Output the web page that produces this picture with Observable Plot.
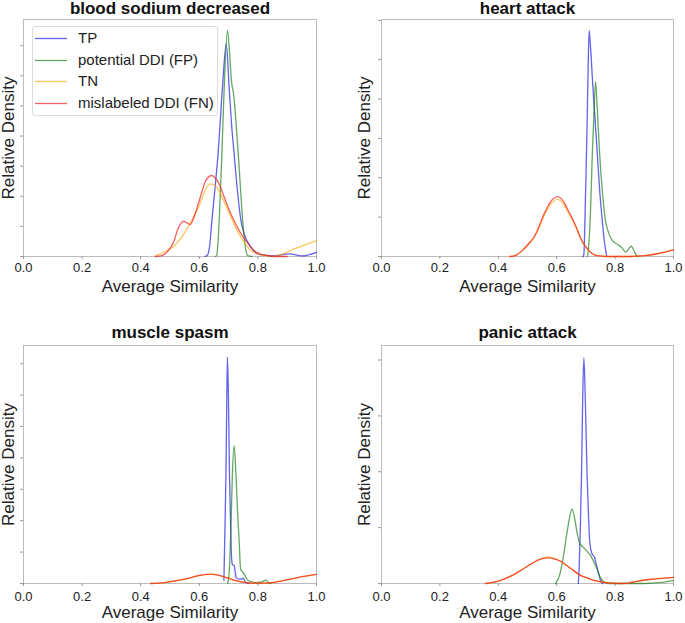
<!DOCTYPE html>
<html><head><meta charset="utf-8">
<script src="https://cdn.jsdelivr.net/npm/d3@7"></script>
<script src="https://cdn.jsdelivr.net/npm/@observablehq/plot@0.6"></script>
<style>
body{margin:0;background:#fff;}
#chart{position:relative;width:685px;height:623px;font-family:"Liberation Sans",Arial,sans-serif;overflow:hidden;}
#chart svg.panel{position:absolute;}
.legend{position:absolute;left:32px;top:26px;width:186px;height:90px;border:1px solid #dcdcdc;border-radius:3px;background:rgba(255,255,255,0.85);box-sizing:border-box;}
.legend .row{position:absolute;left:0;height:20px;width:184px;font-size:15px;color:#222;white-space:nowrap;}
.legend .row svg{position:absolute;left:2px;top:9px;}
.legend .row span{position:absolute;left:45px;top:1px;line-height:18px;}
</style></head><body><div id="chart"></div>
<script>
const seriesNames = ["TP", "potential DDI (FP)", "TN", "mislabeled DDI (FN)"];
const seriesColors = ["#1010e0", "#107a10", "#ffa500", "#ee1010"];
const panelTitles = ["blood sodium decreased", "heart attack", "muscle spasm", "panic attack"];
const xTicks = [0, 0.2, 0.4, 0.6, 0.8, 1.0];
const bloodYTicks = [0, 1, 2, 3, 4, 5, 6, 7];
const heartYTicks = [0, 1, 2, 3, 4, 5, 6];
const muscleYTicks = [0, 1, 2, 3, 4, 5, 6, 7];
const panicYTicks = [0, 1, 2, 3, 4];

// blood sodium decreased
const bloodTP = [[0.62,0],[0.628,0.05],[0.636,0.4],[0.643,1.2],[0.654,2.3],[0.664,3.4],[0.679,5.6],[0.692,7.07],[0.702,5.6],[0.71,4.4],[0.719,3.4],[0.73,2.2],[0.742,1.2],[0.755,0.7],[0.776,0.31],[0.80,0.08],[0.85,0.02],[0.908,0.09],[0.95,0.02],[1.0,0.14]];
const bloodFP = [[0.655,0],[0.66,0.05],[0.664,0.5],[0.668,1.2],[0.677,3.4],[0.685,5.6],[0.696,7.51],[0.703,6.8],[0.71,5.8],[0.717,5.4],[0.725,4.5],[0.733,3.4],[0.741,2.2],[0.748,1.2],[0.759,0.2],[0.765,0.03],[0.78,0]];
const bloodTN = [[0.45,0.02],[0.49,0.2],[0.514,0.35],[0.56,0.95],[0.6,1.7],[0.62,2.2],[0.639,2.41],[0.655,2.35],[0.673,2.08],[0.69,1.7],[0.708,1.31],[0.725,0.95],[0.742,0.64],[0.76,0.38],[0.776,0.2],[0.80,0.08],[0.822,0.03],[0.856,0.01],[0.88,0.06],[0.912,0.2],[0.94,0.31],[0.969,0.42],[1.0,0.53]];
const bloodFN = [[0.45,0],[0.469,0.02],[0.49,0.15],[0.503,0.31],[0.515,0.55],[0.525,0.86],[0.536,1.08],[0.546,1.17],[0.557,1.12],[0.569,1.06],[0.585,1.4],[0.6,1.86],[0.612,2.25],[0.622,2.52],[0.643,2.69],[0.655,2.6],[0.668,2.41],[0.682,2.05],[0.696,1.69],[0.713,1.3],[0.73,0.97],[0.745,0.72],[0.759,0.53],[0.773,0.35],[0.787,0.2],[0.805,0.1],[0.822,0.05],[0.856,0],[0.9,0]];

// heart attack
const heartTP = [[0.69,0],[0.693,0.05],[0.697,1.0],[0.702,2.61],[0.707,4.5],[0.711,5.74],[0.716,5.3],[0.724,4.3],[0.732,3.4],[0.739,2.61],[0.748,1.6],[0.756,0.91],[0.763,0.4],[0.771,0.02]];
const heartFP = [[0.705,0],[0.71,0.3],[0.716,1.2],[0.722,2.61],[0.728,3.7],[0.733,4.44],[0.74,3.6],[0.747,2.61],[0.757,1.6],[0.767,0.91],[0.778,0.6],[0.79,0.41],[0.81,0.3],[0.824,0.22],[0.836,0.11],[0.845,0.18],[0.856,0.26],[0.866,0.12],[0.876,0.01],[0.88,0]];
const heartTN = [[0.44,0],[0.46,0.03],[0.487,0.18],[0.51,0.36],[0.52,0.45],[0.533,0.62],[0.545,0.83],[0.556,1.02],[0.567,1.18],[0.578,1.32],[0.59,1.41],[0.602,1.45],[0.614,1.41],[0.625,1.31],[0.636,1.16],[0.648,1.0],[0.659,0.85],[0.67,0.67],[0.68,0.48],[0.692,0.32],[0.705,0.19],[0.72,0.08],[0.739,0.02],[0.77,0],[0.85,0],[0.9,0.02],[0.944,0.07],[1.0,0.17]];
const heartFN = [[0.44,0],[0.46,0.03],[0.487,0.19],[0.51,0.38],[0.52,0.47],[0.533,0.65],[0.545,0.87],[0.556,1.07],[0.567,1.24],[0.578,1.38],[0.59,1.48],[0.602,1.52],[0.614,1.48],[0.625,1.38],[0.636,1.22],[0.648,1.05],[0.659,0.88],[0.67,0.69],[0.68,0.5],[0.692,0.33],[0.705,0.2],[0.72,0.08],[0.739,0.02],[0.77,0],[0.85,0],[0.9,0.02],[0.944,0.07],[1.0,0.17]];

// muscle spasm
const muscleTP = [[0.684,0.1],[0.687,1.5],[0.691,3.5],[0.694,6.0],[0.696,7.21],[0.699,6.2],[0.703,3.5],[0.707,1.8],[0.71,0.85],[0.713,0.6],[0.719,0.57],[0.722,0.4],[0.726,0.18],[0.735,0.14],[0.743,0.14],[0.75,0.17],[0.756,0.06],[0.765,0.01],[0.77,0]];
const muscleFP = [[0.697,0],[0.703,0.5],[0.708,1.8],[0.713,3.5],[0.719,4.38],[0.725,3.5],[0.73,2.4],[0.736,1.36],[0.741,0.46],[0.747,0.38],[0.753,0.3],[0.762,0.15],[0.77,0.08],[0.79,0.03],[0.811,0.04],[0.827,0.11],[0.838,0.01],[0.845,0]];
const muscleTN = [[0.434,0],[0.48,0.03],[0.52,0.08],[0.548,0.13],[0.571,0.18],[0.6,0.25],[0.645,0.29],[0.68,0.22],[0.719,0.1],[0.76,0.03],[0.8,0.01],[0.84,0.02],[0.867,0.06],[0.9,0.12],[0.946,0.21],[1.0,0.29]];
const muscleFN = [[0.434,0],[0.48,0.03],[0.52,0.09],[0.548,0.14],[0.571,0.19],[0.6,0.26],[0.645,0.3],[0.68,0.23],[0.719,0.11],[0.76,0.03],[0.8,0.01],[0.84,0.02],[0.867,0.06],[0.9,0.12],[0.946,0.21],[1.0,0.29]];

// panic attack
const panicTP = [[0.674,0],[0.677,0.3],[0.681,1.0],[0.685,1.95],[0.689,3.3],[0.693,4.04],[0.698,3.3],[0.704,1.95],[0.709,1.2],[0.713,0.76],[0.719,0.56],[0.725,0.5],[0.729,0.48],[0.735,0.35],[0.744,0.17],[0.75,0.06],[0.757,0]];
const panicFP = [[0.596,0],[0.61,0.15],[0.622,0.46],[0.635,0.9],[0.645,1.2],[0.653,1.33],[0.662,1.15],[0.67,0.9],[0.676,0.76],[0.685,0.68],[0.693,0.64],[0.705,0.57],[0.716,0.5],[0.726,0.4],[0.736,0.29],[0.75,0.1],[0.762,0.03],[0.773,0],[0.9,0],[0.96,0.02],[1.0,0.05]];
const panicTN = [[0.356,0],[0.39,0.03],[0.419,0.08],[0.45,0.15],[0.476,0.23],[0.5,0.31],[0.522,0.38],[0.548,0.45],[0.573,0.47],[0.597,0.44],[0.619,0.38],[0.64,0.3],[0.658,0.23],[0.68,0.15],[0.704,0.1],[0.73,0.05],[0.761,0.02],[0.818,0],[0.85,0.01],[0.876,0.04],[0.933,0.08],[1.0,0.11]];
const panicFN = [[0.356,0],[0.39,0.03],[0.419,0.08],[0.45,0.15],[0.476,0.23],[0.5,0.31],[0.522,0.38],[0.548,0.44],[0.573,0.46],[0.597,0.43],[0.619,0.38],[0.64,0.3],[0.658,0.23],[0.68,0.15],[0.704,0.1],[0.73,0.05],[0.761,0.02],[0.818,0],[0.85,0.01],[0.876,0.04],[0.933,0.08],[1.0,0.11]];

const panelCurves = [
  [bloodTP, bloodFP, bloodTN, bloodFN],
  [heartTP, heartFP, heartTN, heartFN],
  [muscleTP, muscleFP, muscleTN, muscleFN],
  [panicTP, panicFP, panicTN, panicFN]
];
const panelYTicks = [bloodYTicks, heartYTicks, muscleYTicks, panicYTicks];

const layout = [
  {left:0,   top:0,   width:342, height:300, mL:23, mR:26, mT:19, mB:44, yMax:7.87, titleDy:-6,   labelDy:35.4, ylabDx:-14.5, tickPad:3},
  {left:342, top:0,   width:343, height:300, mL:39, mR:12, mT:19, mB:44, yMax:6.02, titleDy:-6,   labelDy:35.4, ylabDx:-17.2, tickPad:3},
  {left:0,   top:300, width:342, height:323, mL:23, mR:26, mT:45, mB:40, yMax:7.58, titleDy:-7.5, labelDy:34.7, ylabDx:-14.5, tickPad:5},
  {left:342, top:300, width:343, height:323, mL:39, mR:12, mT:45, mB:40, yMax:4.26, titleDy:-7.5, labelDy:34.7, ylabDx:-17.2, tickPad:5}
];

const chart = document.getElementById("chart");

panelTitles.forEach((title, p) => {
  const L = layout[p];
  const rows = seriesNames.flatMap((s, i) => panelCurves[p][i].map(([x, y]) => ({series: s, x, y})));
  const svg = Plot.plot({
    width: L.width, height: L.height,
    marginLeft: L.mL, marginRight: L.mR, marginTop: L.mT, marginBottom: L.mB,
    x: {domain: [0, 1]},
    y: {domain: [0, L.yMax]},
    color: {domain: seriesNames, range: seriesColors},
    style: {fontFamily: '"Liberation Sans", Arial, sans-serif', fontSize: "13px", color: "#222", background: "transparent", overflow: "visible"},
    marks: [
      Plot.frame({stroke: "#bcbcbc", strokeWidth: 1}),
      Plot.axisX({ticks: xTicks, tickFormat: d3.format(".1f"), tickSize: 3, tickPadding: L.tickPad, stroke: "#999", fill: "#222", fontSize: 13, label: null}),
      Plot.axisY({ticks: panelYTicks[p], tickFormat: () => "", tickSize: 3, stroke: "#999", label: null}),
      Plot.line(rows, {x: "x", y: "y", z: "series", stroke: "series", strokeWidth: 1.3, strokeOpacity: 0.65, curve: "monotone-x"}),
      Plot.text([title], {text: d => d, frameAnchor: "top", lineAnchor: "bottom", textAnchor: "middle", dy: L.titleDy, fontWeight: "bold", fontSize: 17, fill: "#111"}),
      Plot.text(["Average Similarity"], {text: d => d, frameAnchor: "bottom", lineAnchor: "bottom", textAnchor: "middle", dy: L.labelDy, fontSize: 17, fill: "#222"}),
      Plot.text(["Relative Density"], {text: d => d, frameAnchor: "left", lineAnchor: "middle", textAnchor: "middle", rotate: -90, dx: L.ylabDx, fontSize: 17, fill: "#222"})
    ]
  });
  svg.classList.add("panel");
  svg.style.left = L.left + "px";
  svg.style.top = L.top + "px";
  chart.appendChild(svg);
});

// legend inside first panel
const legend = document.createElement("div");
legend.className = "legend";
seriesNames.forEach((s, i) => {
  const row = document.createElement("div");
  row.className = "row";
  row.style.top = (1 + i * 21.7) + "px";
  const ns = "http://www.w3.org/2000/svg";
  const sw = document.createElementNS(ns, "svg");
  sw.setAttribute("width", "33"); sw.setAttribute("height", "3");
  const ln = document.createElementNS(ns, "line");
  ln.setAttribute("x1", "0"); ln.setAttribute("x2", "32"); ln.setAttribute("y1", "1.5"); ln.setAttribute("y2", "1.5");
  ln.setAttribute("stroke", seriesColors[i]); ln.setAttribute("stroke-opacity", "0.65"); ln.setAttribute("stroke-width", "1.3");
  sw.appendChild(ln);
  const tx = document.createElement("span");
  tx.textContent = s;
  row.appendChild(sw); row.appendChild(tx);
  legend.appendChild(row);
});
chart.appendChild(legend);
</script></body></html>
